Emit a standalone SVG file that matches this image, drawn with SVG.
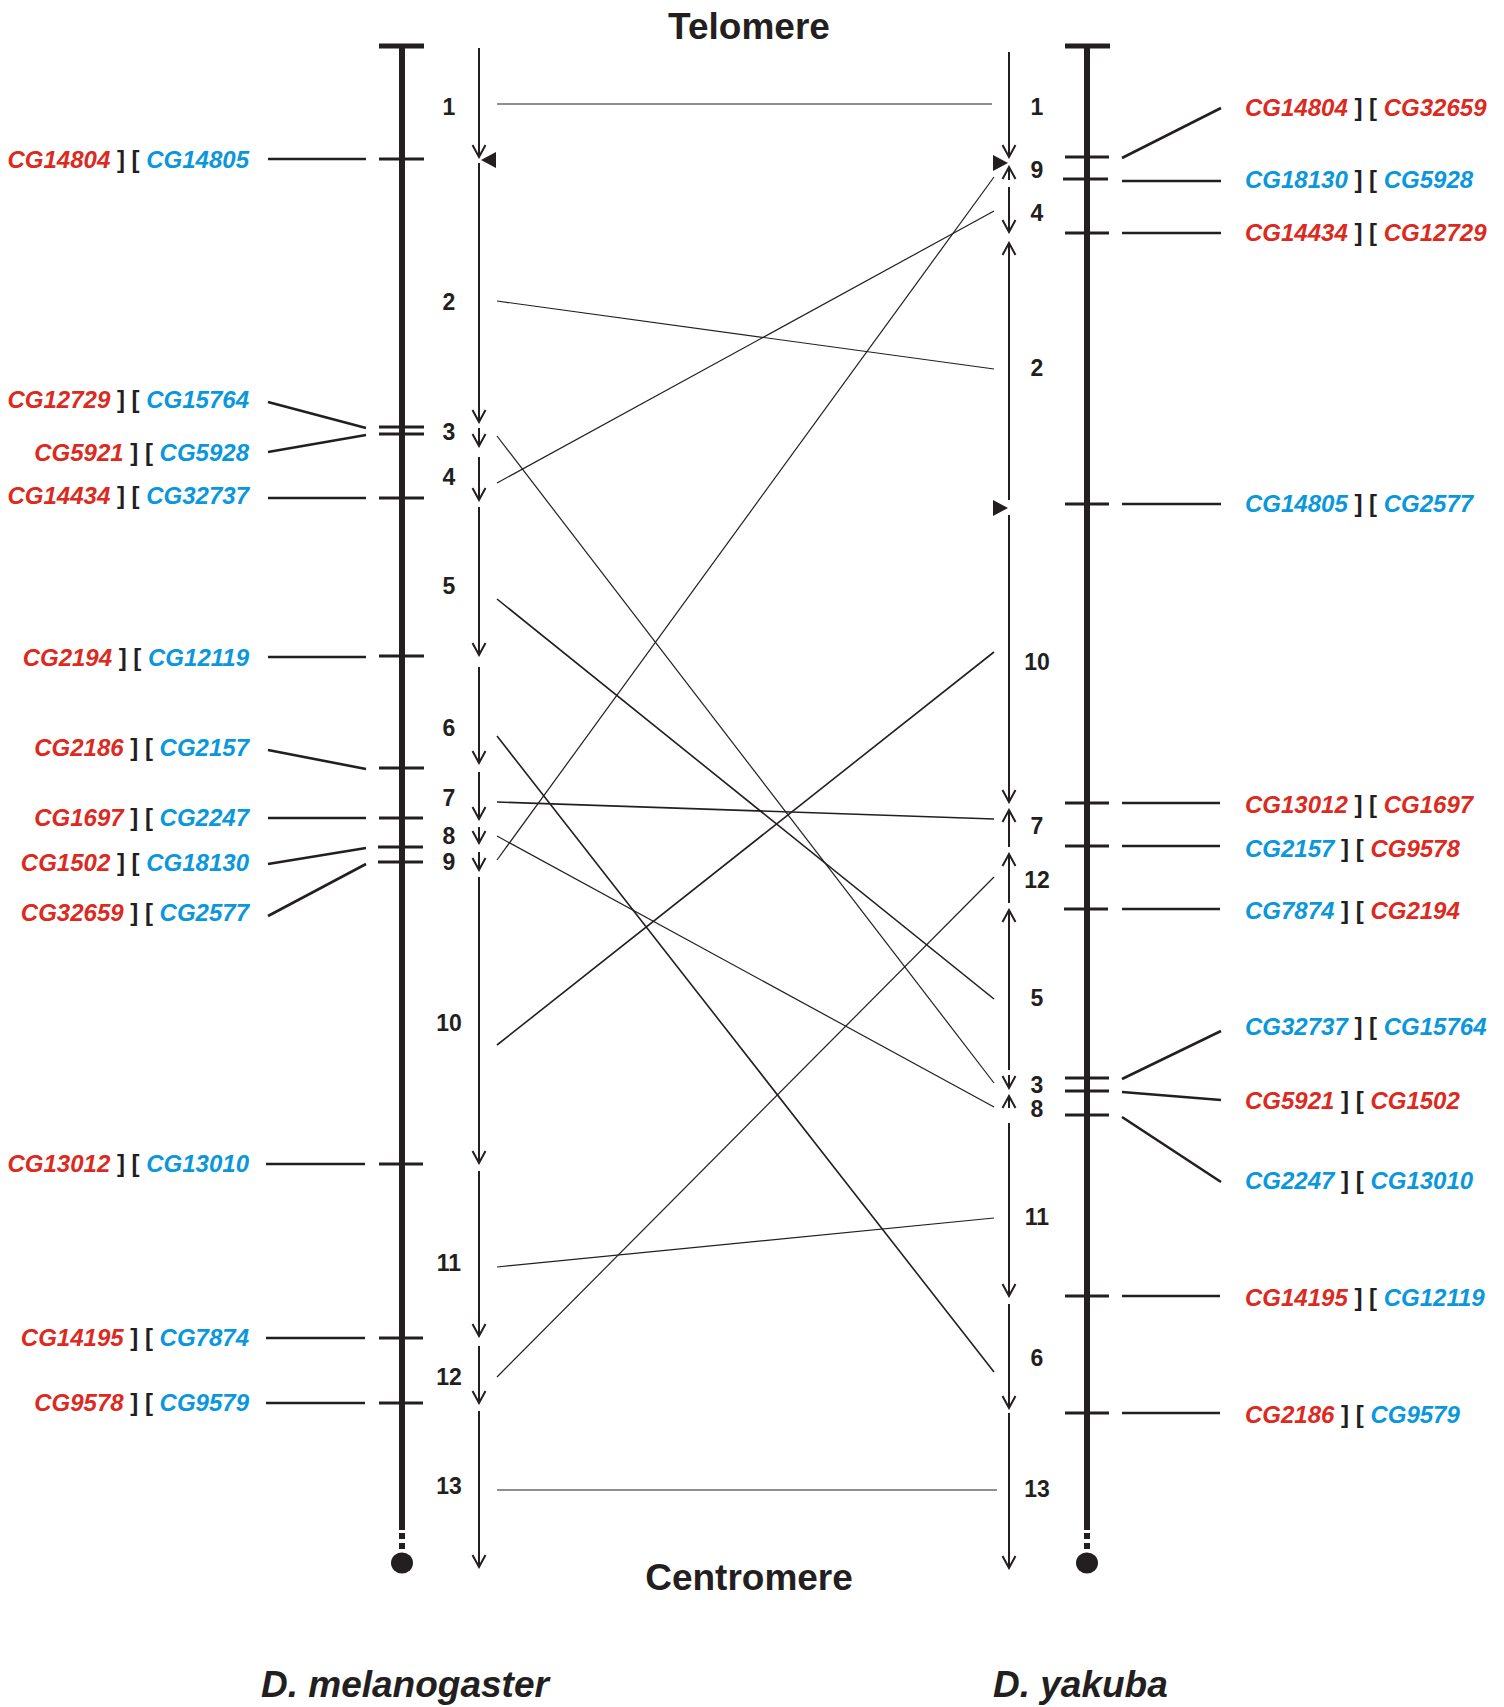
<svg xmlns="http://www.w3.org/2000/svg" width="1504" height="1707" viewBox="0 0 1504 1707">
<style>
text{font-family:"Liberation Sans",Arial,sans-serif;font-weight:bold;fill:#231f20}
.gl{font-size:24px;font-style:italic}
.r{fill:#dc2a21}
.b{fill:#0a97dc}
.k{fill:#231f20;font-style:normal}
.num{font-size:23px;text-anchor:middle}
.title{font-size:37px;text-anchor:middle}
.sp{font-size:37px;font-style:italic}
.bar{stroke:#231f20;stroke-width:6;fill:none}
.tick{stroke:#231f20;stroke-width:3;fill:none}
.lead{stroke:#231f20;stroke-width:2.6;fill:none}
.seg{stroke:#231f20;stroke-width:2;fill:none}
.dn{marker-end:url(#v)}
.up{marker-start:url(#v)}
.cn{stroke:#231f20;stroke-width:1.2;fill:none}
.cn2{stroke:#231f20;stroke-width:1.6;fill:none}
.tri{fill:#231f20}
</style>
<defs>
<marker id="v" viewBox="-14 -9 16 18" refX="0" refY="0" markerWidth="16" markerHeight="18" markerUnits="userSpaceOnUse" orient="auto-start-reverse">
<path d="M-12,-6.5 L0,0 L-12,6.5" fill="none" stroke="#231f20" stroke-width="2"/>
</marker>
</defs>
<rect width="1504" height="1707" fill="#ffffff"/>

<g id="titles">
<text class="title" x="749" y="39">Telomere</text>
<text class="title" x="749" y="1590">Centromere</text>
<text class="sp" x="261" y="1697">D. melanogaster</text>
<text class="sp" x="993" y="1697">D. yakuba</text>
</g>

<g id="chrom-mel">
<line class="bar" x1="402" y1="46" x2="402" y2="1530"/>
<line x1="379" y1="46" x2="424" y2="46" stroke="#231f20" stroke-width="5"/>
<rect x="399" y="1533" width="6" height="6" fill="#231f20"/>
<rect x="399" y="1543" width="6" height="6" fill="#231f20"/>
<ellipse cx="402" cy="1563" rx="11" ry="10.5" fill="#231f20"/>
<g class="tick">
<line x1="379" y1="159" x2="424" y2="159"/>
<line x1="379" y1="427" x2="424" y2="427"/>
<line x1="379" y1="434" x2="424" y2="434"/>
<line x1="379" y1="498" x2="424" y2="498"/>
<line x1="379" y1="656" x2="424" y2="656"/>
<line x1="379" y1="768" x2="424" y2="768"/>
<line x1="379" y1="818" x2="423" y2="818"/>
<line x1="378" y1="847" x2="423" y2="847"/>
<line x1="378" y1="862" x2="423" y2="862"/>
<line x1="379" y1="1164" x2="423" y2="1164"/>
<line x1="379" y1="1338" x2="423" y2="1338"/>
<line x1="379" y1="1403" x2="423" y2="1403"/>
</g>
</g>

<g id="chrom-yak">
<line class="bar" x1="1087" y1="46" x2="1087" y2="1530"/>
<line x1="1065" y1="46" x2="1110" y2="46" stroke="#231f20" stroke-width="5"/>
<rect x="1084" y="1533" width="6" height="6" fill="#231f20"/>
<rect x="1084" y="1543" width="6" height="6" fill="#231f20"/>
<ellipse cx="1087" cy="1563" rx="11" ry="10.5" fill="#231f20"/>
<g class="tick">
<line x1="1065" y1="157" x2="1109" y2="157"/>
<line x1="1063" y1="179" x2="1108" y2="179"/>
<line x1="1065" y1="233" x2="1109" y2="233"/>
<line x1="1065" y1="504" x2="1109" y2="504"/>
<line x1="1065" y1="803" x2="1109" y2="803"/>
<line x1="1065" y1="846" x2="1109" y2="846"/>
<line x1="1064" y1="909" x2="1108" y2="909"/>
<line x1="1065" y1="1078" x2="1109" y2="1078"/>
<line x1="1065" y1="1091" x2="1109" y2="1091"/>
<line x1="1065" y1="1115" x2="1109" y2="1115"/>
<line x1="1065" y1="1296" x2="1109" y2="1296"/>
<line x1="1065" y1="1413" x2="1109" y2="1413"/>
</g>
</g>

<g id="segments-mel">
<line class="seg dn" x1="479" y1="48" x2="479" y2="157"/>
<polygon class="tri" points="481,160 496,152 496,168"/>
<line class="seg dn" x1="479" y1="163" x2="479" y2="422"/>
<line class="seg dn" x1="479" y1="428" x2="479" y2="446"/>
<line class="seg dn" x1="479" y1="457" x2="479" y2="500"/>
<line class="seg dn" x1="479" y1="507" x2="479" y2="655"/>
<line class="seg dn" x1="479" y1="667" x2="479" y2="763"/>
<line class="seg dn" x1="479" y1="772" x2="479" y2="819"/>
<line class="seg dn" x1="479" y1="827" x2="479" y2="843"/>
<line class="seg dn" x1="479" y1="852" x2="479" y2="870"/>
<line class="seg dn" x1="479" y1="877" x2="479" y2="1163"/>
<line class="seg dn" x1="479" y1="1171" x2="479" y2="1336"/>
<line class="seg dn" x1="479" y1="1346" x2="479" y2="1403"/>
<line class="seg dn" x1="479" y1="1411" x2="479" y2="1567"/>
<g class="num">
<text x="449" y="115">1</text>
<text x="449" y="310">2</text>
<text x="449" y="440">3</text>
<text x="449" y="485">4</text>
<text x="449" y="594">5</text>
<text x="449" y="736">6</text>
<text x="449" y="806">7</text>
<text x="449" y="844">8</text>
<text x="449" y="870">9</text>
<text x="449" y="1031">10</text>
<text x="449" y="1271">11</text>
<text x="449" y="1385">12</text>
<text x="449" y="1494">13</text>
</g>
</g>

<g id="segments-yak">
<line class="seg dn" x1="1009" y1="52" x2="1009" y2="157"/>
<polygon class="tri" points="1008,163 993,155 993,171"/>
<line class="seg up" x1="1009" y1="167" x2="1009" y2="180"/>
<line class="seg dn" x1="1009" y1="187" x2="1009" y2="232"/>
<line class="seg up" x1="1009" y1="243" x2="1009" y2="500"/>
<polygon class="tri" points="1008,508 993,500 993,516"/>
<line class="seg dn" x1="1009" y1="515" x2="1009" y2="802"/>
<line class="seg up" x1="1009" y1="810" x2="1009" y2="847"/>
<line class="seg up" x1="1009" y1="854" x2="1009" y2="903"/>
<line class="seg up" x1="1009" y1="910" x2="1009" y2="1070"/>
<line class="seg dn" x1="1009" y1="1075" x2="1009" y2="1088"/>
<line class="seg up" x1="1009" y1="1096" x2="1009" y2="1108"/>
<line class="seg dn" x1="1009" y1="1123" x2="1009" y2="1296"/>
<line class="seg dn" x1="1009" y1="1304" x2="1009" y2="1408"/>
<line class="seg dn" x1="1009" y1="1413" x2="1009" y2="1568"/>
<g class="num">
<text x="1037" y="115">1</text>
<text x="1037" y="178">9</text>
<text x="1037" y="221">4</text>
<text x="1037" y="376">2</text>
<text x="1037" y="670">10</text>
<text x="1037" y="834">7</text>
<text x="1037" y="888">12</text>
<text x="1037" y="1006">5</text>
<text x="1037" y="1093">3</text>
<text x="1037" y="1117">8</text>
<text x="1037" y="1225">11</text>
<text x="1037" y="1366">6</text>
<text x="1037" y="1497">13</text>
</g>
</g>

<g id="genes-mel">
<text class="gl" x="249" y="168" text-anchor="end"><tspan class="r">CG14804</tspan><tspan class="k"> ] [ </tspan><tspan class="b">CG14805</tspan></text>
<text class="gl" x="249" y="408" text-anchor="end"><tspan class="r">CG12729</tspan><tspan class="k"> ] [ </tspan><tspan class="b">CG15764</tspan></text>
<text class="gl" x="249" y="461" text-anchor="end"><tspan class="r">CG5921</tspan><tspan class="k"> ] [ </tspan><tspan class="b">CG5928</tspan></text>
<text class="gl" x="249" y="504" text-anchor="end"><tspan class="r">CG14434</tspan><tspan class="k"> ] [ </tspan><tspan class="b">CG32737</tspan></text>
<text class="gl" x="249" y="666" text-anchor="end"><tspan class="r">CG2194</tspan><tspan class="k"> ] [ </tspan><tspan class="b">CG12119</tspan></text>
<text class="gl" x="249" y="756" text-anchor="end"><tspan class="r">CG2186</tspan><tspan class="k"> ] [ </tspan><tspan class="b">CG2157</tspan></text>
<text class="gl" x="249" y="826" text-anchor="end"><tspan class="r">CG1697</tspan><tspan class="k"> ] [ </tspan><tspan class="b">CG2247</tspan></text>
<text class="gl" x="249" y="871" text-anchor="end"><tspan class="r">CG1502</tspan><tspan class="k"> ] [ </tspan><tspan class="b">CG18130</tspan></text>
<text class="gl" x="249" y="921" text-anchor="end"><tspan class="r">CG32659</tspan><tspan class="k"> ] [ </tspan><tspan class="b">CG2577</tspan></text>
<text class="gl" x="249" y="1172" text-anchor="end"><tspan class="r">CG13012</tspan><tspan class="k"> ] [ </tspan><tspan class="b">CG13010</tspan></text>
<text class="gl" x="249" y="1346" text-anchor="end"><tspan class="r">CG14195</tspan><tspan class="k"> ] [ </tspan><tspan class="b">CG7874</tspan></text>
<text class="gl" x="249" y="1411" text-anchor="end"><tspan class="r">CG9578</tspan><tspan class="k"> ] [ </tspan><tspan class="b">CG9579</tspan></text>
</g>

<g id="genes-yak">
<text class="gl" x="1245" y="116"><tspan class="r">CG14804</tspan><tspan class="k"> ] [ </tspan><tspan class="r">CG32659</tspan></text>
<text class="gl" x="1245" y="188"><tspan class="b">CG18130</tspan><tspan class="k"> ] [ </tspan><tspan class="b">CG5928</tspan></text>
<text class="gl" x="1245" y="241"><tspan class="r">CG14434</tspan><tspan class="k"> ] [ </tspan><tspan class="r">CG12729</tspan></text>
<text class="gl" x="1245" y="512"><tspan class="b">CG14805</tspan><tspan class="k"> ] [ </tspan><tspan class="b">CG2577</tspan></text>
<text class="gl" x="1245" y="813"><tspan class="r">CG13012</tspan><tspan class="k"> ] [ </tspan><tspan class="r">CG1697</tspan></text>
<text class="gl" x="1245" y="857"><tspan class="b">CG2157</tspan><tspan class="k"> ] [ </tspan><tspan class="r">CG9578</tspan></text>
<text class="gl" x="1245" y="919"><tspan class="b">CG7874</tspan><tspan class="k"> ] [ </tspan><tspan class="r">CG2194</tspan></text>
<text class="gl" x="1245" y="1035"><tspan class="b">CG32737</tspan><tspan class="k"> ] [ </tspan><tspan class="b">CG15764</tspan></text>
<text class="gl" x="1245" y="1109"><tspan class="r">CG5921</tspan><tspan class="k"> ] [ </tspan><tspan class="r">CG1502</tspan></text>
<text class="gl" x="1245" y="1189"><tspan class="b">CG2247</tspan><tspan class="k"> ] [ </tspan><tspan class="b">CG13010</tspan></text>
<text class="gl" x="1245" y="1306"><tspan class="r">CG14195</tspan><tspan class="k"> ] [ </tspan><tspan class="b">CG12119</tspan></text>
<text class="gl" x="1245" y="1423"><tspan class="r">CG2186</tspan><tspan class="k"> ] [ </tspan><tspan class="b">CG9579</tspan></text>
</g>

<g id="connectors">
<g class="lead">
<line x1="268" y1="159" x2="366" y2="159"/>
<line x1="268" y1="402" x2="366" y2="428"/>
<line x1="268" y1="452" x2="366" y2="435"/>
<line x1="268" y1="498" x2="366" y2="498"/>
<line x1="268" y1="657" x2="366" y2="657"/>
<line x1="268" y1="750" x2="366" y2="769"/>
<line x1="268" y1="818" x2="366" y2="818"/>
<line x1="268" y1="864" x2="366" y2="848"/>
<line x1="268" y1="916" x2="366" y2="864"/>
<line x1="266" y1="1164" x2="365" y2="1164"/>
<line x1="266" y1="1338" x2="365" y2="1338"/>
<line x1="266" y1="1403" x2="365" y2="1403"/>
<line x1="1122" y1="158" x2="1221" y2="108"/>
<line x1="1122" y1="181" x2="1221" y2="181"/>
<line x1="1122" y1="233" x2="1221" y2="233"/>
<line x1="1122" y1="504" x2="1221" y2="504"/>
<line x1="1122" y1="803" x2="1220" y2="803"/>
<line x1="1122" y1="846" x2="1220" y2="846"/>
<line x1="1122" y1="909" x2="1220" y2="909"/>
<line x1="1122" y1="1079" x2="1221" y2="1031"/>
<line x1="1122" y1="1092" x2="1221" y2="1100"/>
<line x1="1122" y1="1117" x2="1221" y2="1182"/>
<line x1="1122" y1="1296" x2="1220" y2="1296"/>
<line x1="1122" y1="1413" x2="1220" y2="1413"/>
</g>
<line class="cn" x1="497" y1="104" x2="992" y2="104"/>
<line class="cn" x1="497" y1="301" x2="994" y2="369"/>
<line class="cn" x1="497" y1="436" x2="994" y2="1083"/>
<line class="cn" x1="497" y1="483" x2="994" y2="211"/>
<line class="cn2" x1="497" y1="599" x2="994" y2="999"/>
<line class="cn2" x1="497" y1="736" x2="994" y2="1372"/>
<line class="cn2" x1="497" y1="802" x2="994" y2="819"/>
<line class="cn" x1="497" y1="836" x2="994" y2="1107"/>
<line class="cn" x1="497" y1="860" x2="994" y2="177"/>
<line class="cn2" x1="497" y1="1045" x2="994" y2="652"/>
<line class="cn" x1="497" y1="1267" x2="994" y2="1218"/>
<line class="cn" x1="497" y1="1377" x2="994" y2="877"/>
<line class="cn" x1="497" y1="1490" x2="997" y2="1490"/>
</g>
</svg>
